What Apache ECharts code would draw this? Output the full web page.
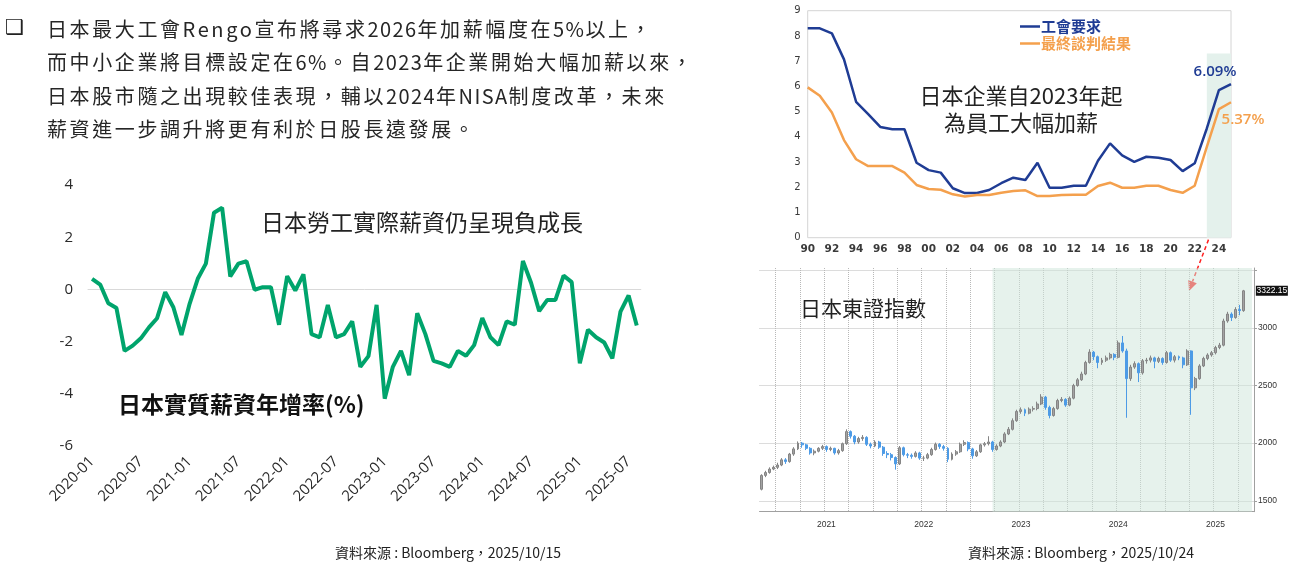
<!DOCTYPE html>
<html>
<head>
<meta charset="utf-8">
<script src="https://cdn.jsdelivr.net/npm/echarts@6/dist/echarts.min.js"></script>
<style>
html, body { margin: 0; padding: 0; background: #fff; }
#main { width: 1289px; height: 565px; }
#bullet { position: absolute; left: 5px; top: 12px; font: 21px/30px 'DejaVu Sans'; color: #222; }
#note { position: absolute; left: 47px; top: 12px; font: 20px/33.4px 'Noto Sans CJK TC'; letter-spacing: 2.6px; color: #262626; white-space: nowrap; }
#note span { letter-spacing: 1.4px; }
</style>
</head>
<body>
<div id="main"></div>
<div id="bullet">❑</div>
<div id="note">日本最大工會<span style="letter-spacing:2.6px">Rengo</span>宣布將尋求<span>2026</span>年加薪幅度在<span>5%</span>以上，<br>而中小企業將目標設定在<span>6%</span>。自<span>2023</span>年企業開始大幅加薪以來，<br>日本股市隨之出現較佳表現，輔以<span>2024</span>年<span>NISA</span>制度改革，未來<br>薪資進一步調升將更有利於日股長遠發展。</div>
<script>
// 日本實質薪資年增率 (%)
var wageMonths = [
  '2020-01','2020-02','2020-03','2020-04','2020-05','2020-06','2020-07','2020-08','2020-09','2020-10','2020-11','2020-12',
  '2021-01','2021-02','2021-03','2021-04','2021-05','2021-06','2021-07','2021-08','2021-09','2021-10','2021-11','2021-12',
  '2022-01','2022-02','2022-03','2022-04','2022-05','2022-06','2022-07','2022-08','2022-09','2022-10','2022-11','2022-12',
  '2023-01','2023-02','2023-03','2023-04','2023-05','2023-06','2023-07','2023-08','2023-09','2023-10','2023-11','2023-12',
  '2024-01','2024-02','2024-03','2024-04','2024-05','2024-06','2024-07','2024-08','2024-09','2024-10','2024-11','2024-12',
  '2025-01','2025-02','2025-03','2025-04','2025-05','2025-06','2025-07','2025-08'
];
var wageYoY = [
  0.41, 0.19, -0.53, -0.71, -2.35, -2.15, -1.87, -1.45, -1.10, -0.10, -0.68, -1.74,
  -0.55, 0.41, 0.99, 2.94, 3.13, 0.50, 0.99, 1.08, -0.01, 0.09, 0.09, -1.35,
  0.51, -0.04, 0.58, -1.71, -1.83, -0.59, -1.83, -1.71, -1.22, -2.96, -2.55, -0.59,
  -4.18, -2.96, -2.35, -3.28, -0.91, -1.71, -2.73, -2.83, -2.96, -2.35, -2.54, -2.13,
  -1.09, -1.83, -2.13, -1.22, -1.35, 1.09, 0.26, -0.83, -0.40, -0.40, 0.53, 0.28,
  -2.83, -1.54, -1.83, -2.03, -2.64, -0.85, -0.23, -1.38
];

// 春鬥: 工會要求 / 最終談判結果 (%)
var rengoYears = ['1990','1991','1992','1993','1994','1995','1996','1997','1998','1999',
  '2000','2001','2002','2003','2004','2005','2006','2007','2008','2009',
  '2010','2011','2012','2013','2014','2015','2016','2017','2018','2019',
  '2020','2021','2022','2023','2024','2025'];
var rengoDemand = [8.3, 8.3, 8.1, 7.07, 5.39, 4.9, 4.39, 4.3, 4.3, 2.97,
  2.68, 2.58, 1.96, 1.77, 1.77, 1.89, 2.16, 2.38, 2.29, 2.97,
  1.98, 1.98, 2.06, 2.06, 3.05, 3.74, 3.26, 3.01, 3.21, 3.17,
  3.08, 2.64, 2.95, 4.33, 5.85, 6.09];
var rengoResult = [5.96, 5.63, 4.96, 3.87, 3.11, 2.84, 2.84, 2.84, 2.58, 2.09,
  1.93, 1.90, 1.72, 1.63, 1.69, 1.69, 1.78, 1.85, 1.88, 1.65,
  1.65, 1.69, 1.70, 1.70, 2.05, 2.18, 1.98, 1.98, 2.06, 2.06,
  1.89, 1.78, 2.06, 3.60, 5.10, 5.37];

// 東證指數 (半月K線)
var tpxMonths = ['2020-11','2020-12',
  '2021-01','2021-02','2021-03','2021-04','2021-05','2021-06','2021-07','2021-08','2021-09','2021-10','2021-11','2021-12',
  '2022-01','2022-02','2022-03','2022-04','2022-05','2022-06','2022-07','2022-08','2022-09','2022-10','2022-11','2022-12',
  '2023-01','2023-02','2023-03','2023-04','2023-05','2023-06','2023-07','2023-08','2023-09','2023-10','2023-11','2023-12',
  '2024-01','2024-02','2024-03','2024-04','2024-05','2024-06','2024-07','2024-08','2024-09','2024-10','2024-11','2024-12',
  '2025-01','2025-02','2025-03','2025-04','2025-05','2025-06','2025-07','2025-08','2025-09','2025-10','2025-11'];
var tpxOpen = [
  1600,1720,1745,1775,1790,1810,1855,1840,1905,1950,
  2000,1985,1955,1915,1930,1955,1970,1945,1955,1915,
  1935,1995,2100,2060,2010,2040,2050,1990,1975,2010,
  1965,1910,1900,1875,1820,1960,1900,1895,1885,1915,
  1870,1870,1900,1945,1990,1970,1955,1860,1905,1925,
  1990,2005,1950,1890,1925,1985,1995,2010,1945,1975,
  2010,2080,2120,2195,2275,2290,2260,2295,2300,2340,
  2400,2310,2240,2300,2370,2380,2330,2390,2500,2550,
  2600,2700,2790,2750,2700,2720,2740,2770,2745,2870,
  2800,2560,2660,2690,2610,2715,2720,2740,2710,2735,
  2700,2785,2720,2750,2740,2680,2800,2480,2560,2670,
  2735,2765,2785,2830,2850,3060,3120,3090,3160,3150
];
var tpxClose = [
  1720,1745,1775,1790,1810,1855,1840,1905,1950,2000,
  1985,1955,1915,1930,1955,1970,1945,1955,1915,1935,
  1995,2100,2060,2010,2040,2050,1990,1975,2010,1965,
  1910,1900,1875,1820,1960,1900,1895,1885,1915,1870,
  1870,1900,1945,1990,1970,1955,1860,1905,1925,1990,
  2005,1950,1890,1925,1985,1995,2010,1945,1975,2010,
  2080,2120,2195,2275,2290,2260,2295,2300,2340,2400,
  2310,2240,2300,2370,2380,2330,2390,2500,2550,2600,
  2700,2790,2750,2700,2720,2740,2770,2745,2870,2800,
  2560,2660,2690,2610,2715,2720,2740,2710,2735,2700,
  2785,2720,2750,2740,2680,2800,2480,2560,2670,2735,
  2765,2785,2830,2850,3060,3120,3090,3160,3150,3322
];
var tpxLow = [
  1590,1705,1735,1765,1775,1800,1820,1830,1890,1940,
  1960,1940,1900,1895,1920,1940,1925,1930,1900,1900,
  1925,1985,2040,1990,1995,2020,1975,1955,1965,1950,
  1890,1870,1850,1770,1810,1885,1870,1865,1875,1855,
  1845,1860,1890,1935,1950,1935,1835,1850,1890,1915,
  1975,1930,1865,1880,1915,1970,1980,1925,1935,1965,
  2000,2070,2110,2185,2255,2235,2250,2275,2285,2330,
  2290,2215,2230,2290,2355,2315,2320,2380,2490,2540,
  2590,2690,2720,2650,2680,2705,2725,2720,2735,2785,
  2220,2540,2645,2530,2595,2690,2700,2650,2695,2680,
  2690,2705,2700,2720,2650,2670,2246,2460,2550,2660,
  2720,2750,2770,2815,2840,3045,3060,3080,3110,3140
];
var tpxHigh = [
  1730,1760,1790,1805,1830,1870,1870,1915,1965,2015,
  2010,1995,1965,1945,1965,1985,1980,1970,1960,1950,
  2005,2120,2110,2070,2055,2070,2060,2005,2025,2020,
  1975,1930,1915,1885,1975,1970,1915,1910,1930,1925,
  1890,1915,1960,2005,2000,1985,1965,1920,1940,2005,
  2025,2015,1960,1940,1995,2010,2060,2020,1990,2025,
  2095,2140,2215,2290,2310,2300,2310,2320,2360,2425,
  2410,2325,2315,2385,2400,2390,2405,2515,2565,2620,
  2715,2815,2800,2760,2740,2760,2785,2780,2890,2930,
  2820,2680,2710,2700,2730,2740,2760,2750,2750,2745,
  2800,2795,2765,2760,2750,2815,2805,2575,2685,2750,
  2780,2800,2845,2870,3080,3140,3135,3180,3200,3330
];
var tpxLast = '3322.15';

var tpxCats = [];
tpxMonths.forEach(function (m) { tpxCats.push(m + '-01', m + '-16'); });
var tpxData = tpxOpen.map(function (o, i) { return [o, tpxClose[i], tpxLow[i], tpxHigh[i]]; });

var blue = '#1f3c94', orange = '#f4a04d', green = '#00a46c';
var cjk = "'Noto Sans CJK TC'";

// only the last point carries a value label
function lastLabel(arr, color, pos, offset) {
  return arr.map(function (v, i) {
    if (i !== arr.length - 1) return v;
    return { value: v, label: { show: true, position: pos, offset: offset,
      formatter: v.toFixed(2) + '%', color: color, fontSize: 15, fontWeight: 600, fontFamily: 'Open Sans' } };
  });
}

var myChart = echarts.init(document.getElementById('main'));

var option = {
  animation: false,
  textStyle: { fontFamily: cjk },
  legend: {
    left: 1015, top: 14, orient: 'vertical', icon: 'rect', itemWidth: 20, itemHeight: 2.5, itemGap: 2,
    textStyle: { fontSize: 15, fontWeight: 'bold', fontFamily: cjk, padding: [0, 0, 0, -4] },
    data: [
      { name: '工會要求', textStyle: { color: blue } },
      { name: '最終談判結果', textStyle: { color: orange } }
    ]
  },
  grid: [
    { left: 88, top: 185, width: 552.8, height: 261.2 },
    { left: 807.7, top: 10.7, width: 423.3, height: 227, show: true, borderColor: '#d4d4d4', borderWidth: 1 },
    { left: 759.5, top: 268, width: 494.5, height: 243.7 }
  ],
  xAxis: [
    { gridIndex: 0, type: 'category', data: wageMonths, boundaryGap: true, position: 'bottom',
      axisLine: { onZero: true, lineStyle: { color: '#d9d9d9' } },
      axisTick: { interval: 5, length: 5, lineStyle: { color: '#d9d9d9' } },
      axisLabel: { show: false }, splitLine: { show: false } },
    { gridIndex: 0, type: 'category', data: wageMonths, boundaryGap: true, position: 'bottom',
      axisLine: { show: false, onZero: false }, axisTick: { show: false },
      axisLabel: { interval: 5, rotate: 45, margin: 13, fontSize: 15, color: '#2a2a2a', fontFamily: 'Open Sans' } },
    { gridIndex: 1, type: 'category', data: rengoYears, boundaryGap: false,
      axisLine: { show: false }, axisTick: { show: false },
      axisLabel: { interval: 1, margin: 6, fontSize: 10.5, fontWeight: 'bold', color: '#3a3a3a', fontFamily: 'DejaVu Sans',
        formatter: function (v) { return v.slice(2); } } },
    { gridIndex: 2, type: 'category', data: tpxCats, boundaryGap: true,
      axisLine: { lineStyle: { color: '#a0a0a0' } },
      axisTick: { interval: function (i, v) { return v.slice(5) === '01-01'; }, length: 15, lineStyle: { color: '#c8c8c8' } },
      axisLabel: { interval: function (i, v) { return v.slice(5) === '07-01'; }, margin: 8, fontSize: 8.5, color: '#333',
        fontFamily: 'Liberation Sans', formatter: function (v) { return v.slice(0, 4); } },
      splitLine: { show: true, interval: function (i, v) { return /-(01|04|07|10)-01$/.test(v); },
        lineStyle: { color: '#b8b8b8', type: 'dotted' } } }
  ],
  yAxis: [
    { gridIndex: 0, type: 'value', min: -6, max: 4, interval: 2,
      axisLine: { show: false }, axisTick: { show: false }, splitLine: { show: false },
      axisLabel: { fontSize: 15, color: '#2a2a2a', margin: 15, fontFamily: 'Open Sans' } },
    { gridIndex: 1, type: 'value', min: 0, max: 9, interval: 1,
      axisLine: { show: false }, axisTick: { show: false }, splitLine: { show: false },
      axisLabel: { fontSize: 10, color: '#3a3a3a', margin: 7, fontFamily: 'DejaVu Sans' } },
    { gridIndex: 2, type: 'value', position: 'right', min: 1405, max: 3520,
      axisLine: { show: true, lineStyle: { color: '#a0a0a0' } },
      axisTick: { show: true, length: 3, customValues: [1500, 2000, 2500, 3000, 3500], lineStyle: { color: '#a0a0a0' } },
      axisLabel: { customValues: [1500, 2000, 2500, 3000], fontSize: 8.5, color: '#333', margin: 4, fontFamily: 'Liberation Sans',
        formatter: function (v) { return String(v); } },
      splitLine: { show: true, lineStyle: { color: '#b8b8b8', type: 'dotted' } } }
  ],
  series: [
    { type: 'line', xAxisIndex: 0, yAxisIndex: 0, data: wageYoY, symbol: 'none',
      lineStyle: { color: green, width: 4 }, itemStyle: { color: green } },
    { name: '工會要求', type: 'line', xAxisIndex: 2, yAxisIndex: 1, symbol: 'circle', symbolSize: 0, showSymbol: true,
      data: lastLabel(rengoDemand, blue, 'top', [-16, 0]),
      lineStyle: { color: blue, width: 2.5 }, itemStyle: { color: blue },
      markArea: { silent: true, itemStyle: { color: '#e4f1ec' },
        data: [[{ xAxis: '2023', yAxis: 7.3 }, { xAxis: '2025', yAxis: 0 }]] } },
    { name: '最終談判結果', type: 'line', xAxisIndex: 2, yAxisIndex: 1, symbol: 'circle', symbolSize: 0, showSymbol: true,
      data: lastLabel(rengoResult, orange, 'bottom', [12, 5]),
      lineStyle: { color: orange, width: 2.5 }, itemStyle: { color: orange } },
    { type: 'candlestick', xAxisIndex: 3, yAxisIndex: 2, data: tpxData, barWidth: '60%',
      itemStyle: { color: '#a3a3a3', color0: '#4d9be6', borderColor: '#858585', borderColor0: '#4d9be6', borderWidth: 1 },
      markArea: { silent: true, itemStyle: { color: 'rgba(205,230,218,0.5)' },
        data: [[{ xAxis: '2023-03-16' }, { xAxis: '2025-11-16' }]] },
      markPoint: { silent: true, symbol: 'rect', symbolSize: [32, 10], symbolOffset: [28, 0],
        itemStyle: { color: '#111' },
        label: { show: true, color: '#fff', fontSize: 8.5, fontFamily: 'Liberation Sans', formatter: tpxLast },
        data: [{ coord: [tpxCats[tpxData.length - 1], tpxClose[tpxClose.length - 1]] }] } }
  ],
  graphic: [
    { type: 'text', x: 261, y: 222, style: { text: '日本勞工實際薪資仍呈現負成長', font: '23px ' + cjk, fill: '#222', align: 'left', verticalAlign: 'middle' } },
    { type: 'text', x: 118, y: 404, style: { text: '日本實質薪資年增率(%)', font: 'bold 23px ' + cjk, fill: '#111', align: 'left', verticalAlign: 'middle' } },
    { type: 'text', x: 1021, y: 96, style: { text: '日本企業自2023年起', font: '22px ' + cjk, fill: '#222', align: 'center', verticalAlign: 'middle' } },
    { type: 'text', x: 1021, y: 123, style: { text: '為員工大幅加薪', font: '22px ' + cjk, fill: '#222', align: 'center', verticalAlign: 'middle' } },
    { type: 'text', x: 800, y: 308, style: { text: '日本東證指數', font: '21px ' + cjk, fill: '#222', align: 'left', verticalAlign: 'middle' } },
    { type: 'text', x: 335, y: 553, style: { text: '資料來源 : Bloomberg，2025/10/15', font: '14px ' + cjk, fill: '#222', align: 'left', verticalAlign: 'middle' } },
    { type: 'text', x: 968, y: 553, style: { text: '資料來源 : Bloomberg，2025/10/24', font: '14px ' + cjk, fill: '#222', align: 'left', verticalAlign: 'middle' } },
    { type: 'line', shape: { x1: 1216, y1: 220, x2: 1192.5, y2: 281.6 }, style: { stroke: '#ff2020', lineWidth: 1.5, lineDash: [4, 3] } },
    { type: 'polygon', shape: { points: [[1189, 291], [1196.8, 283.2], [1188.3, 280.1]] }, style: { fill: '#ff2020' } }
  ]
};

myChart.setOption(option);
</script>
</body>
</html>
